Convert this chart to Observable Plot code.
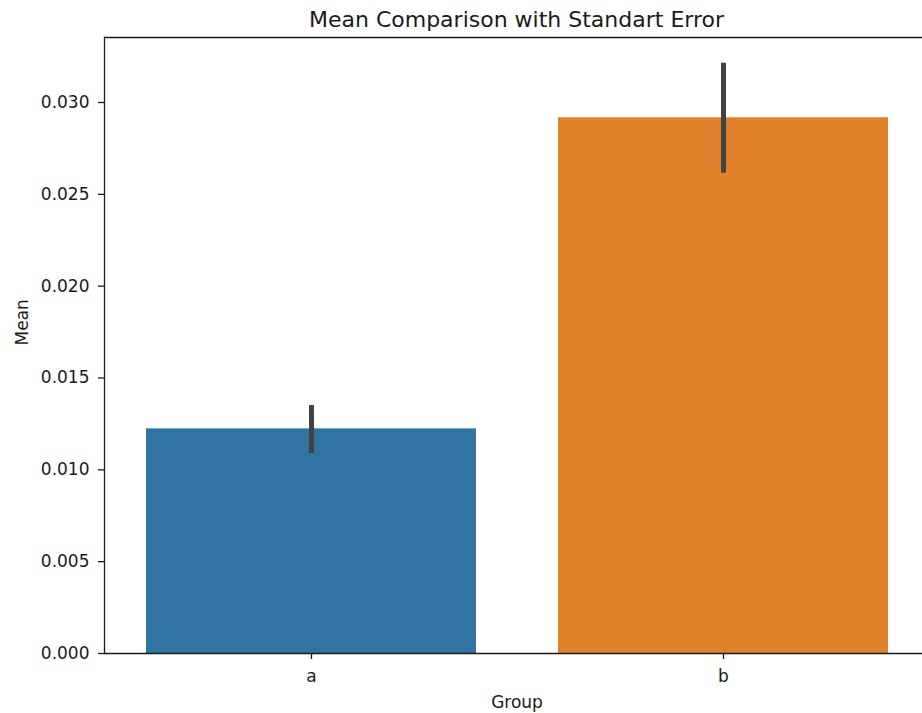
<!DOCTYPE html>
<html>
<head>
<meta charset="utf-8">
<script src="https://cdn.jsdelivr.net/npm/d3@7"></script>
<script src="https://cdn.jsdelivr.net/npm/@observablehq/plot@0.6"></script>
<style>
  html, body { margin: 0; padding: 0; background: #fff; }
  #wrap { position: relative; width: 922px; height: 713px; overflow: hidden; }
  #title { position: absolute; left: 0; top: 0; width: 1033px; height: 40px; line-height: 40px;
           text-align: center; font-family: "DejaVu Sans", sans-serif; font-size: 22px; color: #1a1a1a; }
  #chart { position: absolute; left: 0; top: 0; }
</style>
</head>
<body>
<div id="wrap">
  <div id="chart"></div>
  <div id="title">Mean Comparison with Standart Error</div>
</div>
<script>
const groups = ["a", "b"];
const means = [0.01223, 0.02917];
const errLow = [0.01089, 0.02615];
const errHigh = [0.01350, 0.03214];
const colors = ["#3274a1", "#e1812c"];
const yTicks = [0, 0.005, 0.010, 0.015, 0.020, 0.025, 0.030];
const yMax = 0.03354;

const data = groups.map((g, i) => ({group: g, mean: means[i], lo: errLow[i], hi: errHigh[i]}));

const font = '"DejaVu Sans", sans-serif';
const chart = Plot.plot({
  width: 922,
  height: 713,
  marginTop: 37,
  marginBottom: 60,
  marginLeft: 104,
  marginRight: -7,
  style: {fontFamily: font, fontSize: "17px", color: "#1a1a1a", background: "white"},
  x: {domain: groups, paddingInner: 0.2, paddingOuter: 0.1, label: null},
  y: {domain: [0, yMax], label: null},
  color: {domain: groups, range: colors},
  marks: [
    Plot.barY(data, {x: "group", y: "mean", fill: "group"}),
    Plot.ruleX(data, {x: "group", y1: "lo", y2: "hi", stroke: "#424242", strokeWidth: 5}),
    Plot.ruleY([0, yMax], {stroke: "#1a1a1a", strokeWidth: 1.3}),
    Plot.frame({anchor: "left", stroke: "#1a1a1a", strokeWidth: 1.3}),
    Plot.axisY({ticks: yTicks, tickFormat: d3.format(".3f"), tickSize: 6, tickPadding: 9, label: null, stroke: "#1a1a1a", strokeWidth: 1.3, fontSize: 17}),
    Plot.axisX({tickSize: 6, tickPadding: 10, label: null, stroke: "#1a1a1a", strokeWidth: 1.3, fontSize: 17}),
    Plot.text(["Group"], {frameAnchor: "bottom", dy: 48.6, lineAnchor: "middle", fontSize: 17, fill: "#1a1a1a"}),
    Plot.text(["Mean"], {frameAnchor: "left", dx: -82.4, rotate: -90, lineAnchor: "middle", fontSize: 17, fill: "#1a1a1a"})
  ]
});
document.getElementById("chart").appendChild(chart);
</script>
</body>
</html>
